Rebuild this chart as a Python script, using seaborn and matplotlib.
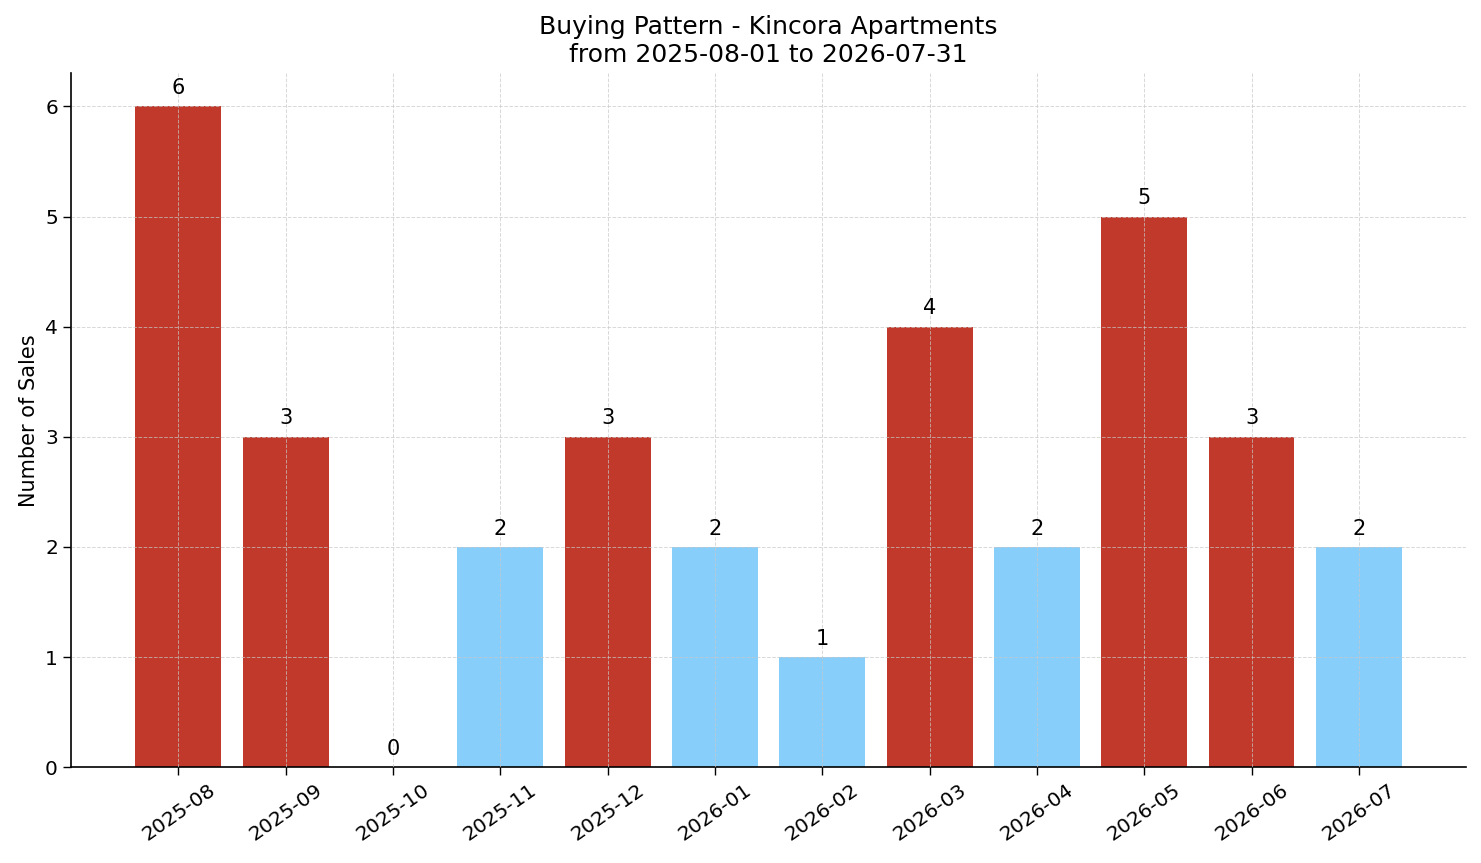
import numpy as np
import pandas as pd
import matplotlib.pyplot as plt
import seaborn as sns

# data
months = ["2025-08", "2025-09", "2025-10", "2025-11", "2025-12", "2026-01",
          "2026-02", "2026-03", "2026-04", "2026-05", "2026-06", "2026-07"]
sales = [6, 3, 0, 2, 3, 2, 1, 4, 2, 5, 3, 2]

RED = "#c0392b"
BLUE = "#87cefa"

sns.set_theme(style="white")
plt.rcParams["font.family"] = ["DejaVu Sans"]
plt.rcParams["text.color"] = "black"
plt.rcParams["axes.labelcolor"] = "black"

df = pd.DataFrame({"month": months, "sales": sales})
mean_sales = np.mean(sales)
df["level"] = np.where(df["sales"] > mean_sales, "high", "low")

fig, ax = plt.subplots(figsize=(14.81, 8.63), dpi=100)

sns.barplot(
    data=df,
    x="month",
    y="sales",
    hue="level",
    palette={"high": RED, "low": BLUE},
    dodge=False,
    width=0.8,
    saturation=1,
    linewidth=0,
    legend=False,
    ax=ax,
)

for i, v in enumerate(sales):
    ax.annotate(
        str(v),
        (i, v),
        xytext=(0, 6),
        textcoords="offset points",
        ha="center",
        va="bottom",
        fontsize=15,
        color="black",
    )

ax.set_xlim(-1, len(months))
ax.set_ylim(0, 6.3)
ax.set_axisbelow(False)
ax.grid(True, linestyle="--", color="#c8c8c8", linewidth=0.7, alpha=0.7)

ax.set_title(
    "Buying Pattern - Kincora Apartments\nfrom 2025-08-01 to 2026-07-31",
    fontsize=18,
    color="black",
    pad=8,
)
ax.set_xlabel("")
ax.set_ylabel("Number of Sales", fontsize=15)

ax.tick_params(axis="both", labelsize=14.5, length=6, width=1, colors="black",
               bottom=True, left=True)
plt.setp(ax.get_xticklabels(), rotation=35)

sns.despine(ax=ax)
for side in ["left", "bottom"]:
    ax.spines[side].set_color("black")
    ax.spines[side].set_linewidth(1.2)

fig.subplots_adjust(left=0.048, right=0.99, top=0.915, bottom=0.111)

plt.savefig("out.png", dpi=100)
plt.close()
